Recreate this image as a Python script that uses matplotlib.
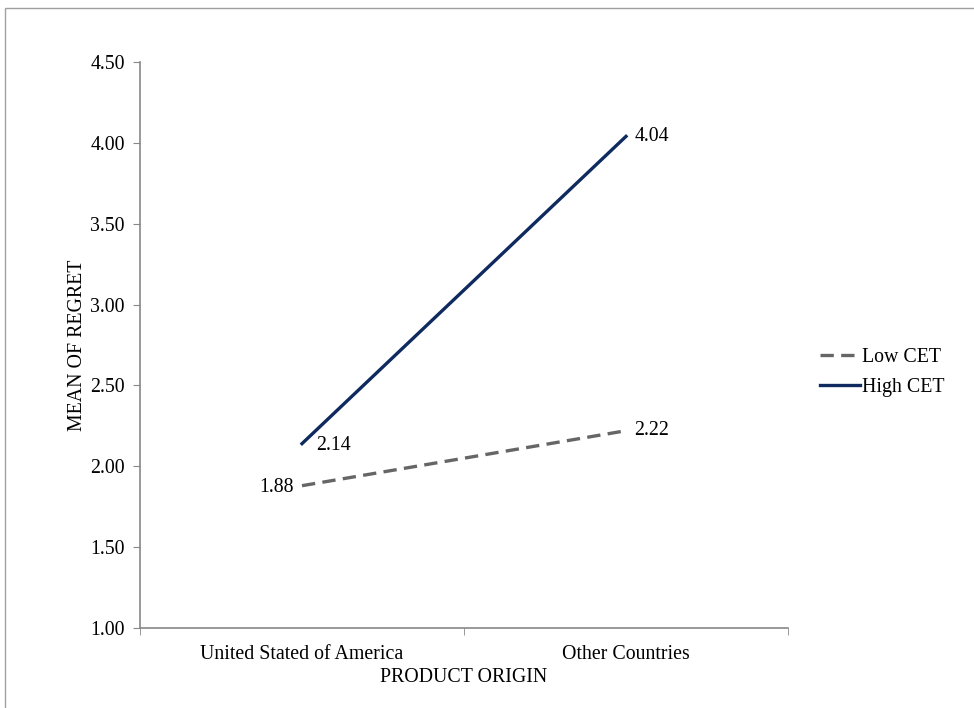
import matplotlib.pyplot as plt
from matplotlib.patches import Rectangle
from matplotlib.ticker import FixedLocator, FormatStrFormatter

plt.rcParams['font.family'] = ['Liberation Serif', 'DejaVu Serif']

categories = ['United Stated of America', 'Other Countries']
low_cet = [1.88, 2.22]
high_cet = [2.14, 4.04]

FS = 14.3

fig = plt.figure(figsize=(9.74, 7.08), dpi=100)
fig.patches.append(Rectangle((5 / 974, -0.1), 1.2, 1 - 8 / 708 + 0.1, transform=fig.transFigure,
                             fill=False, edgecolor='#a0a0a0', linewidth=1))

ax = fig.add_axes([140 / 974, 80 / 708, 648 / 974, 566 / 708])

x = list(range(len(categories)))
ax.plot(x, low_cet, color='#666666', linewidth=2.4, dashes=(4, 2.2), label='Low CET')
ax.plot(x, high_cet, color='#0f2a5e', linewidth=2.4, label='High CET')

# value labels
ax.annotate(f'{low_cet[0]:.2f}', (x[0], low_cet[0]), xytext=(-6, -1), textcoords='offset points',
            ha='right', va='center', fontsize=FS)
ax.annotate(f'{low_cet[1]:.2f}', (x[1], low_cet[1]), xytext=(6, 0), textcoords='offset points',
            ha='left', va='center', fontsize=FS)
ax.annotate(f'{high_cet[0]:.2f}', (x[0], high_cet[0]), xytext=(10, -1), textcoords='offset points',
            ha='left', va='center', fontsize=FS)
ax.annotate(f'{high_cet[1]:.2f}', (x[1], high_cet[1]), xytext=(6, 0), textcoords='offset points',
            ha='left', va='center', fontsize=FS)

ax.set_xlim(-0.5, 1.5)
ax.set_ylim(1.0, 4.5)
ax.set_yticks([1.0, 1.5, 2.0, 2.5, 3.0, 3.5, 4.0, 4.5])
ax.yaxis.set_major_formatter(FormatStrFormatter('%.2f'))
ax.set_xticks(x)
ax.set_xticklabels(categories)
ax.xaxis.set_minor_locator(FixedLocator([-0.5, 0.5, 1.5]))
ax.tick_params(axis='x', which='major', length=0, pad=12, labelsize=FS)
ax.tick_params(axis='x', which='minor', length=5, color='#888888', direction='out')
ax.tick_params(axis='y', length=5, color='#888888', labelsize=FS, pad=6)

for side in ['top', 'right']:
    ax.spines[side].set_visible(False)
for side in ['left', 'bottom']:
    ax.spines[side].set_color('#888888')
    ax.spines[side].set_linewidth(1.2)

ax.set_xlabel('PRODUCT ORIGIN', fontsize=FS, labelpad=3)
ax.set_ylabel('MEAN OF REGRET', fontsize=FS, labelpad=2)

ax.legend(loc='center left', bbox_to_anchor=(1.022, 0.452), frameon=False, fontsize=FS,
          handlelength=2.0, handletextpad=0.1, labelspacing=0.55)

fig.savefig('out.png', dpi=100)
